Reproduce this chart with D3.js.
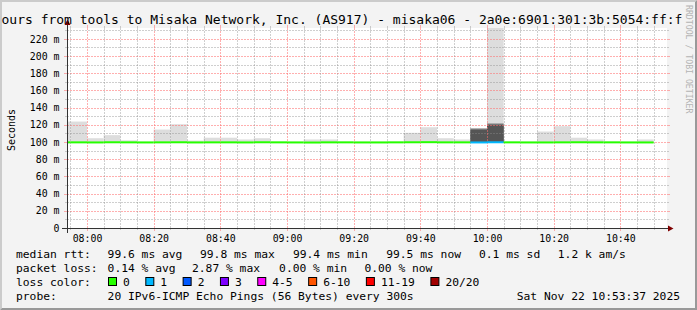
<!DOCTYPE html>
<html><head><meta charset="utf-8">
<script src="https://cdn.jsdelivr.net/npm/d3@7"></script>
<style>html,body{margin:0;padding:0;background:#f3f3f3;overflow:hidden}svg{display:block}</style>
</head><body>
<svg id="c" width="697" height="310"></svg>
<script>
// ---------- data ----------
const intervalStart = ["07:50","07:55","08:00","08:05","08:10","08:15","08:20","08:25","08:30","08:35","08:40","08:45",
  "08:50","08:55","09:00","09:05","09:10","09:15","09:20","09:25","09:30","09:35","09:40","09:45",
  "09:50","09:55","10:00","10:05","10:10","10:15","10:20","10:25","10:30","10:35","10:40","10:45"];
const medianRtt = [99.6,99.6,99.5,99.7,99.6,99.5,99.6,99.7,99.5,99.6,99.6,99.5,
  99.7,99.6,99.5,99.4,99.6,99.6,99.5,99.5,99.6,99.7,99.8,99.6,
  99.6,99.5,99.7,99.6,99.5,99.5,99.6,99.7,99.6,99.6,99.5,99.5];
const smokeMin = [99.2,99.2,99.1,99.3,99.2,99.2,99.1,99.2,99.2,99.3,99.2,99.1,
  99.2,99.2,99.2,99.1,99.2,99.3,99.2,99.2,99.2,99.3,99.2,99.2,
  99.2,99.1,99.2,99.2,99.2,99.1,99.2,99.3,99.2,99.2,99.2,99.2];
const smokeMax = [123.8,123.8,104.4,108.0,102.0,100.4,114.5,120.7,101.7,105.0,105.0,103.0,
  104.4,100.4,100.4,103.0,103.0,100.4,100.4,100.4,100.4,110.7,117.2,104.4,
  103.0,115.7,260.0,100.4,100.4,112.2,118.4,105.0,103.0,100.4,100.4,103.0];
const smokeMid = [null,null,null,null,null,null,null,null,null,null,null,null,
  null,null,null,null,null,null,null,null,null,null,null,null,
  null,115.7,121.5,null,null,null,null,null,null,null,null,null];
const smokeDense = [null,null,null,null,null,null,null,null,null,null,null,null,
  null,null,null,null,null,null,null,null,null,null,null,null,
  null,114.0,119.8,null,null,null,null,null,null,null,null,null];
const lossCount = [0,0,0,0,0,0,0,0,0,0,0,0, 0,0,0,0,0,0,0,0,0,0,0,0, 0,1,1,0,0,0,0,0,0,0,0,0];
const yTicks = [0,20,40,60,80,100,120,140,160,180,200,220];
const xTickLabels = ["08:00","08:20","08:40","09:00","09:20","09:40","10:00","10:20","10:40"];
const lossLabels = ["0","1","2","3","4-5","6-10","11-19","20/20"];
const lossColors = ["#26ff00","#00b8ff","#0059ff","#7e00ff","#ff00ff","#ff5500","#ff0000","#a10000"];
const rttStats = ["99.6 ms avg","99.8 ms max","99.4 ms min","99.5 ms now","0.1 ms sd","1.2 k am/s"];
const lossStats = ["0.14 % avg","2.87 % max","0.00 % min","0.00 % now"];
const titleText = "ours from tools to Misaka Network, Inc. (AS917) - misaka06 - 2a0e:6901:301:3b:5054:ff:f";
const probeText = "20 IPv6-ICMP Echo Pings (56 Bytes) every 300s";
const stampText = "Sat Nov 22 10:53:37 2025";

// ---------- setup ----------
const W = 697, H = 310;
const MONO = "'DejaVu Sans Mono', monospace";
const svg = d3.select("#c");
const parse = s => d3.utcParse("%Y-%m-%d %H:%M")("2025-11-22 " + s);
const L = 67, R = 667, T = 28, B = 228;
const x = d3.scaleUtc().domain([parse("07:54"), parse("10:54")]).range([L, R]);
const y = d3.scaleLinear().domain([0, 232.6]).range([B, T]);

// background + bevel
svg.append("rect").attr("width", W).attr("height", H).attr("fill", "#f3f3f3");
svg.append("polygon").attr("points", "0,0 697,0 695,2 2,2 2,308 0,310").attr("fill", "#cbcbcb");
svg.append("polygon").attr("points", "697,0 697,310 0,310 2,308 695,308 695,2").attr("fill", "#999999");

// canvas
svg.append("rect").attr("x", L).attr("y", T).attr("width", R - L).attr("height", B - T).attr("fill", "#ffffff");
svg.append("clipPath").attr("id", "cv").append("rect").attr("x", L).attr("y", T).attr("width", R - L).attr("height", B - T);

const data = intervalStart.map((s, i) => {
  const t0 = parse(s);
  return { t0, t1: d3.utcMinute.offset(t0, 5), med: medianRtt[i], lo: smokeMin[i], hi: smokeMax[i],
           mid: smokeMid[i], dense: smokeDense[i], loss: lossCount[i] };
});

const gSmoke = svg.append("g").attr("clip-path", "url(#cv)");
gSmoke.selectAll("rect.light").data(data).join("rect").attr("class", "light")
  .attr("x", d => x(d.t0)).attr("width", d => x(d.t1) - x(d.t0))
  .attr("y", d => y(d.hi)).attr("height", d => y(d.lo) - y(d.hi)).attr("fill", "#dddddd");
gSmoke.selectAll("rect.mid").data(data.filter(d => d.mid != null)).join("rect").attr("class", "mid")
  .attr("x", d => x(d.t0)).attr("width", d => x(d.t1) - x(d.t0))
  .attr("y", d => y(d.mid)).attr("height", d => y(d.lo) - y(d.mid)).attr("fill", "#777777");
gSmoke.selectAll("rect.dense").data(data.filter(d => d.dense != null)).join("rect").attr("class", "dense")
  .attr("x", d => x(d.t0)).attr("width", d => x(d.t1) - x(d.t0))
  .attr("y", d => y(d.dense)).attr("height", d => y(d.lo) - y(d.dense)).attr("fill", "#555555");

// grid
const minorCol = "rgba(140,140,140,0.42)", majorCol = "rgba(255,110,110,0.55)";
const gGrid = svg.append("g");
const yMinor = d3.range(10, 232, 20);
const yMajor = yTicks.filter(v => v > 0);
const xAll = d3.utcMinute.every(5).range(parse("07:55"), parse("10:54"));
const xMajorSet = new Set(xTickLabels);
const fmt = d3.utcFormat("%H:%M");
yMinor.forEach(v => {
  const yy = Math.round(y(v)) + 0.5;
  gGrid.append("line").attr("x1", L).attr("x2", R).attr("y1", yy).attr("y2", yy).attr("stroke", minorCol).attr("stroke-dasharray", "2,1");
  gGrid.append("line").attr("x1", L - 2).attr("x2", L).attr("y1", yy).attr("y2", yy).attr("stroke", minorCol);
  gGrid.append("line").attr("x1", R).attr("x2", R + 2).attr("y1", yy).attr("y2", yy).attr("stroke", minorCol);
});
yMajor.forEach(v => {
  const yy = Math.round(y(v)) + 0.5;
  gGrid.append("line").attr("x1", L).attr("x2", R).attr("y1", yy).attr("y2", yy).attr("stroke", majorCol).attr("stroke-dasharray", "2,1");
  gGrid.append("line").attr("x1", L - 3).attr("x2", L).attr("y1", yy).attr("y2", yy).attr("stroke", majorCol);
  gGrid.append("line").attr("x1", R).attr("x2", R + 3).attr("y1", yy).attr("y2", yy).attr("stroke", majorCol);
});
xAll.forEach(t => {
  const xx = Math.round(x(t)) + 0.5;
  const maj = xMajorSet.has(fmt(t));
  const c = maj ? majorCol : minorCol;
  gGrid.append("line").attr("x1", xx).attr("x2", xx).attr("y1", T).attr("y2", B).attr("stroke", c).attr("stroke-dasharray", "2,1");
  gGrid.append("line").attr("x1", xx).attr("x2", xx).attr("y1", B).attr("y2", B + (maj ? 3 : 2)).attr("stroke", c);
  gGrid.append("line").attr("x1", xx).attr("x2", xx).attr("y1", T - (maj ? 3 : 2)).attr("y2", T).attr("stroke", c);
});

// median line coloured by loss
svg.append("g").selectAll("line").data(data).join("line")
  .attr("x1", d => Math.max(L, x(d.t0))).attr("x2", d => x(d.t1))
  .attr("y1", d => y(d.med)).attr("y2", d => y(d.med))
  .attr("stroke", d => lossColors[Math.min(d.loss, 7)]).attr("stroke-width", 2);

// axes lines & arrows
const axCol = "#333333";
svg.append("line").attr("x1", 62).attr("x2", 669).attr("y1", B + 0.5).attr("y2", B + 0.5).attr("stroke", axCol);
svg.append("line").attr("x1", L + 0.5).attr("x2", L + 0.5).attr("y1", 24).attr("y2", 233).attr("stroke", axCol);
svg.append("polygon").attr("points", `${L + 0.5},19.5 ${L - 2.5},25 ${L + 3.5},25`).attr("fill", "#7f0000");
svg.append("polygon").attr("points", `673.5,${B + 0.5} 668,${B - 2.5} 668,${B + 3.5}`).attr("fill", "#7f0000");

// axis labels through d3 axes
const xAxis = d3.axisBottom(x).tickValues(xTickLabels.map(parse)).tickFormat(fmt).tickSize(0).tickPadding(6.8);
const gx = svg.append("g").attr("transform", `translate(0,${B})`).call(xAxis);
gx.select(".domain").remove();
gx.selectAll("text").attr("font-family", MONO).attr("font-size", "9.9px").attr("fill", "#000");
const yAxis = d3.axisLeft(y).tickValues(yTicks).tickFormat(d => d === 0 ? "0" : d + " m").tickSize(0).tickPadding(7.5);
const gy = svg.append("g").attr("transform", `translate(${L},0)`).call(yAxis);
gy.select(".domain").remove();
gy.selectAll("text").attr("font-family", MONO).attr("font-size", "9.9px").attr("fill", "#000");

// y title
svg.append("text").attr("transform", "translate(11,130) rotate(-90)").attr("text-anchor", "middle")
  .attr("dominant-baseline", "central").attr("font-family", MONO).attr("font-size", "10px").attr("fill", "#000").text("Seconds");

// title (visible part of the centred, over-wide rrdtool title)
svg.append("text").attr("x", 1.5).attr("y", 24)
  .attr("font-family", MONO).attr("font-size", "13px").attr("fill", "#000").text(titleText);

// watermark
svg.append("text").attr("transform", "translate(685.5,5) rotate(90)").attr("font-family", MONO)
  .attr("font-size", "8.2px").attr("fill", "#b4b4b4").text("RRDTOOL / TOBI OETIKER");

// legend
const LF = "11.3px";
const leg = svg.append("g").attr("font-family", MONO).attr("font-size", LF).attr("fill", "#000");
const rows = [258, 272, 286, 300];
leg.append("text").attr("x", 16).attr("y", rows[0]).text("median rtt:");
leg.append("text").attr("x", 16).attr("y", rows[1]).text("packet loss:");
leg.append("text").attr("x", 16).attr("y", rows[2]).text("loss color:");
leg.append("text").attr("x", 16).attr("y", rows[3]).text("probe:");
const rttX = [107.6, 200, 292.9, 386.2, 479, 557.8];
rttStats.forEach((s, i) => leg.append("text").attr("x", rttX[i]).attr("y", rows[0]).text(s));
const lossX = [107.6, 192, 279.1, 364.4];
lossStats.forEach((s, i) => leg.append("text").attr("x", lossX[i]).attr("y", rows[1]).text(s));
leg.append("text").attr("x", 107.6).attr("y", rows[3]).text(probeText);
leg.append("text").attr("x", 680).attr("y", rows[3]).attr("text-anchor", "end").text(stampText);
let bx = 108;
lossLabels.forEach((lab, i) => {
  leg.append("rect").attr("x", bx + 0.5).attr("y", 277.5).attr("width", 8).attr("height", 8)
    .attr("fill", lossColors[i]).attr("stroke", "#000").attr("stroke-width", 1);
  const t = leg.append("text").attr("x", bx + 15).attr("y", rows[2]).text(lab);
  bx = bx + 15 + t.node().getComputedTextLength() + 15.5;
});
</script>
</body></html>
